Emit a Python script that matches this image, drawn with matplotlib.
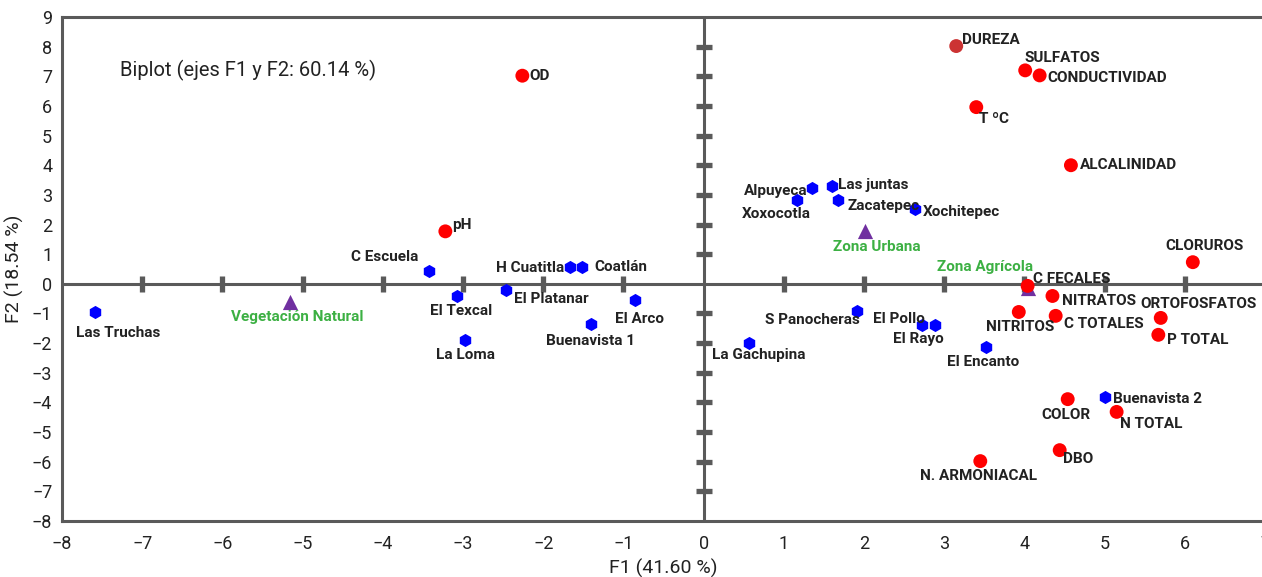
import numpy as np
import matplotlib
matplotlib.use("Agg")
import matplotlib.pyplot as plt

plt.rcParams['font.family'] = ['Roboto', 'DejaVu Sans']

# variables (red)
var_names = ['OD', 'pH', 'DUREZA', 'SULFATOS', 'CONDUCTIVIDAD', 'T ºC', 'ALCALINIDAD',
             'CLORUROS', 'C FECALES', 'NITRATOS', 'NITRITOS', 'C TOTALES', 'ORTOFOSFATOS',
             'P TOTAL', 'COLOR', 'N TOTAL', 'DBO', 'N. ARMONIACAL']
var_f1 = [-2.26, -3.22, 3.15, 4.01, 4.19, 3.40, 4.58, 6.10, 4.04, 4.35, 3.93, 4.39, 5.70,
          5.67, 4.54, 5.15, 4.44, 3.45]
var_f2 = [7.02, 1.77, 8.02, 7.20, 7.03, 5.96, 4.00, 0.73, -0.07, -0.41, -0.95, -1.08, -1.15,
          -1.72, -3.89, -4.32, -5.61, -5.98]

# sampling sites (blue)
site_names = ['Las Truchas', 'C Escuela', 'El Texcal', 'La Loma', 'El Platanar', 'H Cuatitla',
              'Coatlán', 'El Arco', 'Buenavista 1', 'La Gachupina', 'S Panocheras', 'El Pollo',
              'El Rayo', 'El Encanto', 'Buenavista 2', 'Alpuyeca', 'Xoxocotla', 'Las juntas',
              'Zacatepec', 'Xochitepec']
site_f1 = [-7.59, -3.42, -3.08, -2.97, -2.46, -1.67, -1.51, -0.85, -1.41, 0.56, 1.91, 2.72,
           2.89, 3.52, 5.01, 1.35, 1.17, 1.60, 1.68, 2.63]
site_f2 = [-0.95, 0.44, -0.41, -1.89, -0.20, 0.57, 0.57, -0.54, -1.35, -1.99, -0.91, -1.39,
           -1.39, -2.13, -3.82, 3.22, 2.82, 3.29, 2.82, 2.52]

# land use zones (purple triangles)
zone_names = ['Vegetación Natural', 'Zona Urbana', 'Zona Agrícola']
zone_f1 = [-5.16, 2.01, 4.04]
zone_f2 = [-0.61, 1.79, -0.15]

# label offsets in pixels (dx, dy, ha)
var_off = {
    'OD': (7, 0, 'left'), 'pH': (7, 6, 'left'), 'DUREZA': (6, 6, 'left'),
    'SULFATOS': (-1, 12, 'left'), 'CONDUCTIVIDAD': (8, -3, 'left'), 'T ºC': (3, -12, 'left'),
    'ALCALINIDAD': (9, 0, 'left'), 'CLORUROS': (12, 16, 'center'), 'C FECALES': (5, 7, 'left'),
    'NITRATOS': (10, -5, 'left'), 'NITRITOS': (1, -15, 'center'), 'C TOTALES': (8, -8, 'left'),
    'ORTOFOSFATOS': (96, 14, 'right'), 'P TOTAL': (9, -5, 'left'), 'COLOR': (-2, -16, 'center'),
    'N TOTAL': (3, -12, 'left'), 'DBO': (3, -9, 'left'), 'N. ARMONIACAL': (-2, -15, 'center'),
}
site_off = {
    'Las Truchas': (23, -21, 'center'), 'C Escuela': (-11, 14, 'right'),
    'El Texcal': (5, -15, 'center'), 'La Loma': (0, -15, 'center'),
    'El Platanar': (8, -9, 'left'), 'H Cuatitla': (-5, -1, 'right'),
    'Coatlán': (12, 0, 'left'), 'El Arco': (4, -19, 'center'),
    'Buenavista 1': (0, -17, 'center'), 'La Gachupina': (10, -12, 'center'),
    'S Panocheras': (3, -9, 'right'), 'El Pollo': (-23, 6, 'center'),
    'El Rayo': (-17, -14, 'center'), 'El Encanto': (-3, -15, 'center'),
    'Buenavista 2': (8, -2, 'left'), 'Alpuyeca': (-4, -3, 'right'),
    'Xoxocotla': (-21, -14, 'center'), 'Las juntas': (6, 1, 'left'),
    'Zacatepec': (9, -6, 'left'), 'Xochitepec': (8, -3, 'left'),
}
zone_off = {
    'Vegetación Natural': (7, -15, 'center'), 'Zona Urbana': (12, -16, 'center'),
    'Zona Agrícola': (-43, 21, 'center'),
}

axis_col = '#5a5a5a'
text_col = '#222222'
green = '#3cb043'

fig = plt.figure(figsize=(12.62, 5.77), dpi=100)
ax = fig.add_axes([62 / 1262, 1 - 521 / 577, (1265 - 62) / 1262, (521 - 17) / 577])
ax.set_xlim(-8, 7)
ax.set_ylim(-8, 9)

for s in ax.spines.values():
    s.set_color(axis_col)
    s.set_linewidth(2.2)

ax.set_xticks(range(-8, 8))
ax.set_yticks(range(-8, 10))
ax.tick_params(length=0, labelsize=13, colors=text_col)
ax.tick_params(axis='x', pad=10)
ax.tick_params(axis='y', pad=7)
ax.set_xlabel('F1 (41.60 %)', fontsize=14, color=text_col, labelpad=4)
ax.set_ylabel('F2 (18.54 %)', fontsize=14, color=text_col, labelpad=6)

# centre cross with tick bars
ax.axhline(0, color=axis_col, lw=2.2, zorder=1)
ax.axvline(0, color=axis_col, lw=2.2, zorder=1)
xt = [v for v in range(-7, 7) if v != 0]
yt = [v for v in range(-7, 9) if v != 0]
ax.plot(xt, np.zeros(len(xt)), ls='none', marker='|', ms=12, mew=3.8, color=axis_col, zorder=1)
ax.plot(np.zeros(len(yt)), yt, ls='none', marker='_', ms=12, mew=3.8, color=axis_col, zorder=1)

ax.text(0.048, 0.893, 'Biplot (ejes F1 y F2: 60.14 %)', transform=ax.transAxes,
        fontsize=14.5, color=text_col, va='center')

ax.scatter(zone_f1, zone_f2, marker='^', s=120, color='#7030a0', zorder=3, linewidths=0)
ax.scatter(site_f1, site_f2, marker='h', s=90, color='#0000ff', zorder=4, linewidths=0)
var_colors = ['#cc3333' if n == 'DUREZA' else '#ff0000' for n in var_names]
ax.scatter(var_f1, var_f2, marker='o', s=100, color=var_colors, zorder=5, linewidths=0)


def put_labels(names, xs, ys, offs, color):
    for n, x, y in zip(names, xs, ys):
        dx, dy, ha = offs[n]
        ax.annotate(n, (x, y), xytext=(dx, dy), textcoords='offset pixels', ha=ha,
                    va='center', fontsize=11, fontweight='bold', color=color, zorder=6)


put_labels(var_names, var_f1, var_f2, var_off, text_col)
put_labels(site_names, site_f1, site_f2, site_off, text_col)
put_labels(zone_names, zone_f1, zone_f2, zone_off, green)

fig.savefig('out.png', dpi=100)
